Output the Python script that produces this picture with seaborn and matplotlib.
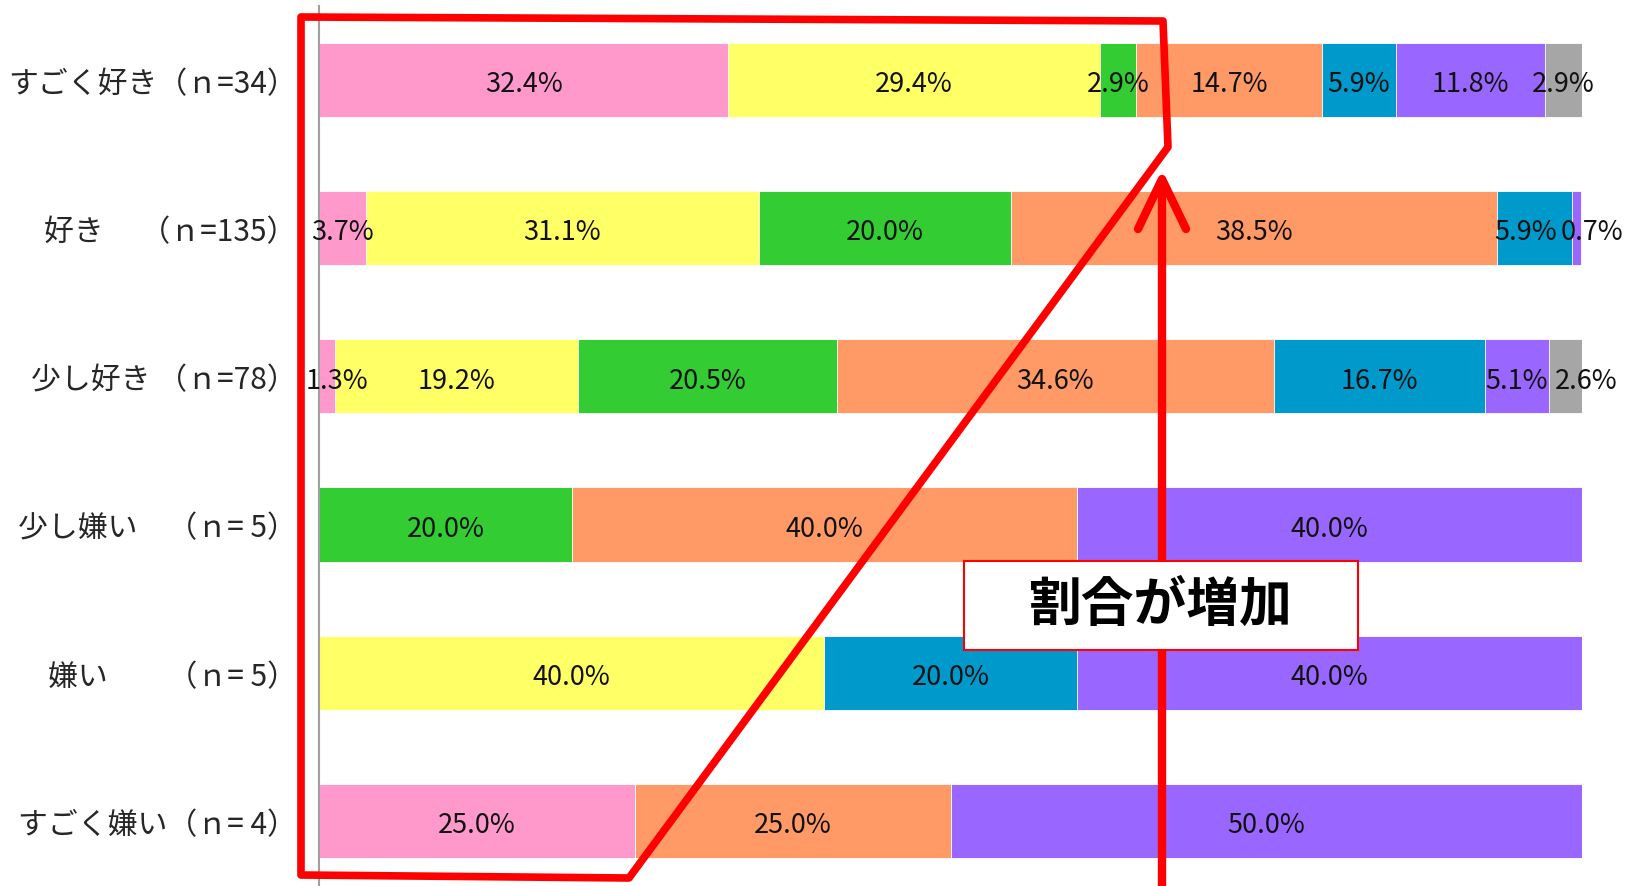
import numpy as np
import pandas as pd
import seaborn as sns
import matplotlib.pyplot as plt
from matplotlib.patches import Polygon, Rectangle
from matplotlib.lines import Line2D

# データ
labels = ['すごく好き（ｎ=34）', '好き　 （ｎ=135）', '少し好き （ｎ=78）',
          '少し嫌い　（ｎ= 5）', '嫌い　　（ｎ= 5）', 'すごく嫌い（ｎ= 4）']
seg_pink = [32.4, 3.7, 1.3, 0, 0, 25.0]
seg_yellow = [29.4, 31.1, 19.2, 0, 40.0, 0]
seg_green = [2.9, 20.0, 20.5, 20.0, 0, 0]
seg_orange = [14.7, 38.5, 34.6, 40.0, 0, 25.0]
seg_blue = [5.9, 5.9, 16.7, 0, 20.0, 0]
seg_purple = [11.8, 0.7, 5.1, 40.0, 40.0, 50.0]
seg_gray = [2.9, 0, 2.6, 0, 0, 0]

segments = [seg_pink, seg_yellow, seg_green, seg_orange, seg_blue, seg_purple, seg_gray]
colors = ['#FF99CC', '#FFFF66', '#33CC33', '#FF9966', '#0099CC', '#9966FF', '#A6A6A6']

# 小さい区間のラベルを少しずらす (行, 区間) -> x方向のずれ
label_shift = {(2, 0): 0.8, (1, 4): -0.7, (1, 5): 1.2, (2, 6): 1.6}

sns.set_style('white')
plt.rcParams['font.family'] = ['Noto Sans CJK JP', 'DejaVu Sans']

W, H = 1626, 887
fig = plt.figure(figsize=(W / 100, H / 100), dpi=100)
ax = fig.add_axes([319 / W, 0, (1582 - 319) / W, (H - 7) / H])

# 積み上げ棒（累積値を後ろから描く）
vals = np.array(segments)
cum = vals.cumsum(axis=0)
for k in range(len(segments) - 1, -1, -1):
    df = pd.DataFrame({'label': labels, 'value': cum[k]})
    sns.barplot(data=df, x='value', y='label', orient='h', color=colors[k],
                width=0.5, saturation=1, edgecolor='white', linewidth=0.6, ax=ax)

# ラベル
for i in range(len(labels)):
    for k in range(len(segments)):
        v = vals[k, i]
        if v > 0:
            xc = cum[k, i] - v / 2 + label_shift.get((i, k), 0)
            ax.text(xc, i + 0.025, f'{v:.1f}%', ha='center', va='center',
                    fontsize=19.5, color='#111111')

ax.set_xlim(0, 100)
ax.set_ylim(5.44, -0.5)
ax.set_xlabel('')
ax.set_ylabel('')
ax.set_xticks([])
ax.tick_params(axis='y', length=0, pad=16, labelsize=21.5)
for s in ['top', 'right', 'bottom']:
    ax.spines[s].set_visible(False)
ax.spines['left'].set_color('#A0A0A0')
ax.spines['left'].set_linewidth(1.5)


def px(x, y):
    return (x / W, 1 - y / H)


# 赤い枠
poly = Polygon([px(301, 18), px(1163, 22), px(1168, 148), px(629, 879), px(301, 876)],
               closed=True, fill=False, edgecolor='#FF0000', linewidth=5.5,
               joinstyle='round', transform=fig.transFigure, zorder=10)
fig.add_artist(poly)

# 矢印
fig.add_artist(Line2D([1162 / W, 1162 / W], [0, 1 - 182 / H], color='#FF0000', linewidth=6,
                      transform=fig.transFigure, zorder=11))
hx, hy = zip(px(1138, 230), px(1162, 180), px(1186, 230))
fig.add_artist(Line2D(hx, hy, color='#FF0000', linewidth=6, solid_capstyle='round',
                      solid_joinstyle='round', transform=fig.transFigure, zorder=11))

# テキストボックス
x0, y0 = px(964, 651)
x1, y1 = px(1358, 562)
fig.add_artist(Rectangle((x0, y0), x1 - x0, y1 - y0, facecolor='white', edgecolor='#FF0000',
                         linewidth=1.5, transform=fig.transFigure, zorder=12))
fig.text(1161 / W, 1 - 605 / H, '割合が増加', ha='center', va='center', fontsize=38,
         fontweight='bold', color='black', zorder=13)

fig.savefig('out.png', dpi=100)
